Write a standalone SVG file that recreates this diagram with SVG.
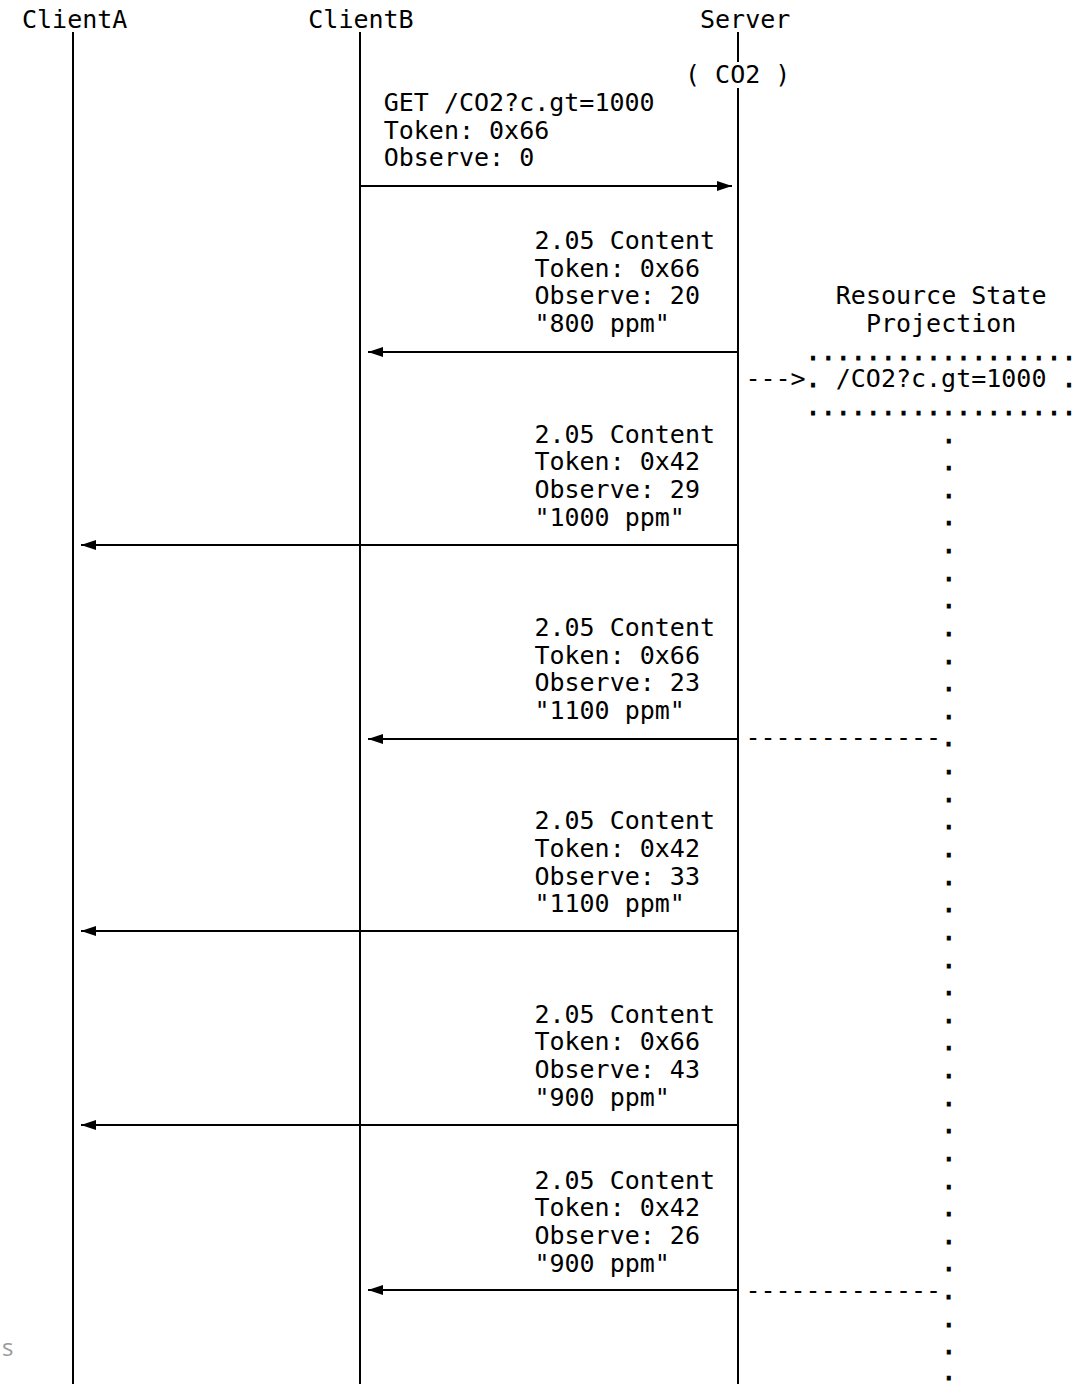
<svg xmlns="http://www.w3.org/2000/svg" width="1081" height="1384" viewBox="0 0 1081 1384">
<style>
  text { font-family: "DejaVu Sans Mono", "Liberation Mono", monospace; font-size: 25px; fill: #000; white-space: pre; }
  .dots { stroke: #000; stroke-width: 0.9; }
  .life { stroke: #000; stroke-width: 2; fill: none; }
  .msg { stroke: #000; stroke-width: 2; fill: none; }
  .ghost { font-family: "Open Sans", "Noto Sans", sans-serif; font-size: 24px; fill: #9a9a9a; }
</style>
<defs>
  <marker id="ah" markerUnits="userSpaceOnUse" markerWidth="15" markerHeight="10" refX="15" refY="5" orient="auto">
    <path d="M0,0 L15,5 L0,10 z" fill="#000"/>
  </marker>
</defs>
<rect x="0" y="0" width="1081" height="1384" fill="#fff"/>

<g id="clientA">
  <text x="22" y="28">ClientA</text>
  <line class="life" x1="73" y1="32" x2="73" y2="1384"/>
</g>
<g id="clientB">
  <text x="308.3" y="28">ClientB</text>
  <line class="life" x1="360" y1="32" x2="360" y2="1384"/>
</g>
<g id="server">
  <text x="700" y="28">Server</text>
  <text x="685" y="83.4">( CO2 )</text>
  <line class="life" x1="738" y1="32" x2="738" y2="62"/>
  <line class="life" x1="738" y1="88" x2="738" y2="1384"/>
</g>

<g id="projection">
  <text x="835.8" y="304.4">Resource State</text>
  <text x="865.9" y="332">Projection</text>
  <text class="dots" x="805.6" y="359.7">..................</text>
  <text x="745.4" y="387.3">---&gt;<tspan class="dots">.</tspan> /CO2?c.gt=1000 <tspan class="dots">.</tspan></text>
  <text class="dots" x="805.6" y="414.9">..................</text>
  <text class="dots" x="941.3"><tspan x="941.3" y="442.55">.</tspan><tspan x="941.3" y="470.18">.</tspan><tspan x="941.3" y="497.81">.</tspan><tspan x="941.3" y="525.44">.</tspan><tspan x="941.3" y="553.07">.</tspan><tspan x="941.3" y="580.7">.</tspan><tspan x="941.3" y="608.33">.</tspan><tspan x="941.3" y="635.96">.</tspan><tspan x="941.3" y="663.59">.</tspan><tspan x="941.3" y="691.22">.</tspan><tspan x="941.3" y="718.85">.</tspan><tspan x="941.3" y="774.11">.</tspan><tspan x="941.3" y="801.74">.</tspan><tspan x="941.3" y="829.37">.</tspan><tspan x="941.3" y="857">.</tspan><tspan x="941.3" y="884.63">.</tspan><tspan x="941.3" y="912.26">.</tspan><tspan x="941.3" y="939.89">.</tspan><tspan x="941.3" y="967.52">.</tspan><tspan x="941.3" y="995.15">.</tspan><tspan x="941.3" y="1022.78">.</tspan><tspan x="941.3" y="1050.41">.</tspan><tspan x="941.3" y="1078.04">.</tspan><tspan x="941.3" y="1105.67">.</tspan><tspan x="941.3" y="1133.3">.</tspan><tspan x="941.3" y="1160.93">.</tspan><tspan x="941.3" y="1188.56">.</tspan><tspan x="941.3" y="1216.19">.</tspan><tspan x="941.3" y="1243.82">.</tspan><tspan x="941.3" y="1271.45">.</tspan><tspan x="941.3" y="1326.71">.</tspan><tspan x="941.3" y="1354.34">.</tspan><tspan x="941.3" y="1380">.</tspan></text>
  <text x="745.4" y="746.48">-------------<tspan class="dots">.</tspan></text>
  <text x="745.4" y="1299.08">-------------<tspan class="dots">.</tspan></text>
</g>

<g id="labels">
  <text x="383.7"><tspan x="383.7" y="111">GET /CO2?c.gt=1000</tspan><tspan x="383.7" y="138.6">Token: 0x66</tspan><tspan x="383.7" y="166.3">Observe: 0</tspan></text>
  <text x="534.4"><tspan x="534.4" y="249.1">2.05 Content</tspan><tspan x="534.4" y="276.7">Token: 0x66</tspan><tspan x="534.4" y="304.3">Observe: 20</tspan><tspan x="534.4" y="332">"800 ppm"</tspan></text>
  <text x="534.4"><tspan x="534.4" y="442.6">2.05 Content</tspan><tspan x="534.4" y="470.2">Token: 0x42</tspan><tspan x="534.4" y="497.8">Observe: 29</tspan><tspan x="534.4" y="525.5">"1000 ppm"</tspan></text>
  <text x="534.4"><tspan x="534.4" y="636">2.05 Content</tspan><tspan x="534.4" y="663.6">Token: 0x66</tspan><tspan x="534.4" y="691.2">Observe: 23</tspan><tspan x="534.4" y="718.9">"1100 ppm"</tspan></text>
  <text x="534.4"><tspan x="534.4" y="829.4">2.05 Content</tspan><tspan x="534.4" y="857">Token: 0x42</tspan><tspan x="534.4" y="884.6">Observe: 33</tspan><tspan x="534.4" y="912.3">"1100 ppm"</tspan></text>
  <text x="534.4"><tspan x="534.4" y="1022.8">2.05 Content</tspan><tspan x="534.4" y="1050.4">Token: 0x66</tspan><tspan x="534.4" y="1078">Observe: 43</tspan><tspan x="534.4" y="1105.7">"900 ppm"</tspan></text>
  <text x="534.4"><tspan x="534.4" y="1188.6">2.05 Content</tspan><tspan x="534.4" y="1216.2">Token: 0x42</tspan><tspan x="534.4" y="1243.8">Observe: 26</tspan><tspan x="534.4" y="1271.5">"900 ppm"</tspan></text>
</g>

<g id="connectors">
  <line class="msg" x1="360" y1="186" x2="732" y2="186" marker-end="url(#ah)"/>
  <line class="msg" x1="738" y1="352" x2="368" y2="352" marker-end="url(#ah)"/>
  <line class="msg" x1="738" y1="545" x2="81" y2="545" marker-end="url(#ah)"/>
  <line class="msg" x1="738" y1="739" x2="368" y2="739" marker-end="url(#ah)"/>
  <line class="msg" x1="738" y1="931" x2="81" y2="931" marker-end="url(#ah)"/>
  <line class="msg" x1="738" y1="1125" x2="81" y2="1125" marker-end="url(#ah)"/>
  <line class="msg" x1="738" y1="1290" x2="368" y2="1290" marker-end="url(#ah)"/>
</g>

<text class="ghost" x="2" y="1356">s</text>
</svg>
